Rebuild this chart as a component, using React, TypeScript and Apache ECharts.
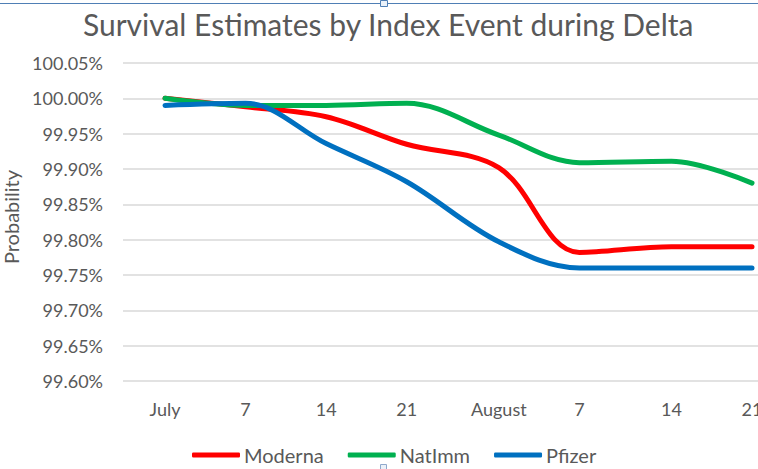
import React, { useEffect, useRef } from "react";
import * as echarts from "echarts";

const chartTitle = "Survival Estimates by Index Event during Delta";
const yAxisTitle = "Probability";
const xTickDays = [0, 7, 14, 21, 29, 36, 44, 51];
const xTickLabels = ["July", "7", "14", "21", "August", "7", "14", "21"];
const seriesNames = ["Moderna", "NatImm", "Pfizer"];
const moderna = [100.0, 99.988, 99.974, 99.935, 99.902, 99.782, 99.79, 99.79];
const natImm = [100.0, 99.99, 99.99, 99.993, 99.948, 99.909, 99.911, 99.88];
const pfizer = [99.99, 99.993, 99.936, 99.882, 99.797, 99.76, 99.76, 99.76];
const colors = ["#FF0000", "#00B050", "#0070C0"];

const FONT = "Lato, 'Open Sans', sans-serif";
const GREY = "#595959";

export default function App() {
  const ref = useRef<HTMLDivElement>(null);
  useEffect(() => {
    if (!ref.current) return;
    const chart = echarts.init(ref.current, null, { renderer: "svg" });
    const allValues = [moderna, natImm, pfizer];
    chart.setOption({
      animation: false,
      backgroundColor: "#ffffff",
      textStyle: { fontFamily: FONT },
      title: {
        text: chartTitle,
        left: 78,
        top: 4,
        textStyle: { fontFamily: FONT, fontSize: 30, fontWeight: "normal", color: GREY },
      },
      legend: {
        data: seriesNames,
        left: 192,
        top: 445,
        padding: 0,
        icon: "roundRect",
        itemWidth: 48,
        itemHeight: 5,
        itemGap: 24,
        textStyle: { fontFamily: FONT, fontSize: 20, color: GREY, padding: [0, 0, 0, -1] },
      },
      grid: { left: 123, right: 0, top: 63, bottom: 88, containLabel: false, outerBoundsMode: "none" },
      xAxis: {
        type: "value",
        min: -3.65,
        max: 51.52,
        axisLine: { show: false },
        axisTick: { show: false },
        splitLine: { show: false },
        axisLabel: {
          customValues: xTickDays,
          margin: 19,
          fontFamily: FONT,
          fontSize: 18,
          color: GREY,
          formatter: (v: number) => {
            const i = xTickDays.indexOf(v);
            return i >= 0 ? xTickLabels[i] : "";
          },
        },
      },
      yAxis: {
        type: "value",
        min: 99.6,
        max: 100.05,
        interval: 0.05,
        axisLine: { show: false },
        axisTick: { show: false },
        splitLine: { lineStyle: { color: "#D9D9D9", width: 1.5 } },
        axisLabel: {
          margin: 20,
          fontFamily: FONT,
          fontSize: 18,
          color: GREY,
          formatter: (v: number) => v.toFixed(2) + "%",
        },
      },
      series: seriesNames.map((name, si) => ({
        name,
        type: "line",
        smooth: 0.35,
        showSymbol: false,
        data: xTickDays.map((d, i) => [d, allValues[si][i]]),
        itemStyle: { color: colors[si] },
        lineStyle: { color: colors[si], width: 5, cap: "round", join: "round" },
      })),
      graphic: [
        {
          type: "text",
          x: 11,
          y: 217,
          rotation: Math.PI / 2,
          style: {
            text: yAxisTitle,
            fontFamily: FONT,
            fontSize: 20,
            fill: GREY,
            textAlign: "center",
            textVerticalAlign: "middle",
          },
        },
        {
          type: "line",
          shape: { x1: 0, y1: 3.5, x2: 758, y2: 3.5 },
          style: { stroke: "#4F7FB5", lineWidth: 1 },
        },
        {
          type: "rect",
          shape: { x: 380.5, y: 0.5, width: 7, height: 6 },
          style: { fill: "#EAF1F9", stroke: "#4F7FB5", lineWidth: 1 },
        },
        {
          type: "rect",
          shape: { x: 380.5, y: 464.5, width: 6, height: 5 },
          style: { fill: "#EAF1F9", stroke: "#8FA9CC", lineWidth: 1 },
        },
      ],
    });
    return () => chart.dispose();
  }, []);
  return (
    <div
      ref={ref}
      style={{ position: "fixed", left: 0, top: 0, width: 758, height: 469, background: "#fff" }}
    />
  );
}
